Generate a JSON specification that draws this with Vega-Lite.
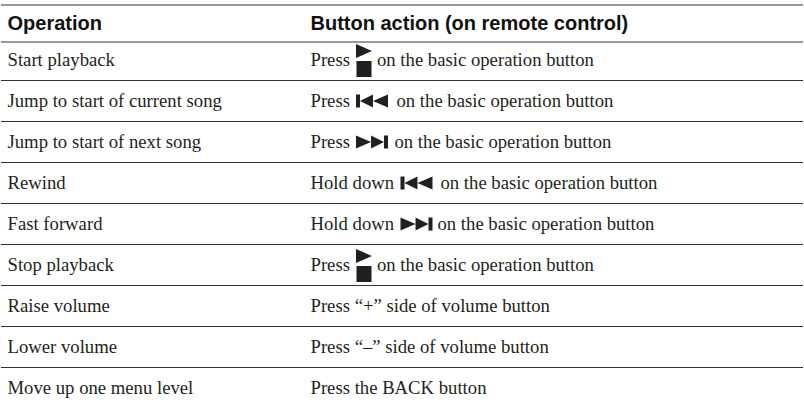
{"$schema":"https://vega.github.io/schema/vega-lite/v6.json","width":804,"height":405,"padding":0,"autosize":{"type":"fit","contains":"padding"},"background":"white","view":{"stroke":null},
"datasets":{
"lines":[{"b":-0.5},{"b":0.5},{"b":1.5},{"b":2.5},{"b":3.5},{"b":4.5},{"b":5.5},{"b":6.5},{"b":7.5},{"b":8.5}],
"head":[{"row":0,"slot":0,"t":"Operation"},{"row":0,"slot":1,"t":"Button action (on remote control)"}],
"body":[
{"row":1,"slot":0,"t":"Start playback"},{"row":1,"slot":1,"t":"Press"},{"row":1,"slot":4,"t":"on the basic operation button"},
{"row":2,"slot":0,"t":"Jump to start of current song"},{"row":2,"slot":1,"t":"Press"},{"row":2,"slot":6,"t":"on the basic operation button"},
{"row":3,"slot":0,"t":"Jump to start of next song"},{"row":3,"slot":1,"t":"Press"},{"row":3,"slot":5,"t":"on the basic operation button"},
{"row":4,"slot":0,"t":"Rewind"},{"row":4,"slot":1,"t":"Hold down"},{"row":4,"slot":9,"t":"on the basic operation button"},
{"row":5,"slot":0,"t":"Fast forward"},{"row":5,"slot":1,"t":"Hold down"},{"row":5,"slot":8,"t":"on the basic operation button"},
{"row":6,"slot":0,"t":"Stop playback"},{"row":6,"slot":1,"t":"Press"},{"row":6,"slot":4,"t":"on the basic operation button"},
{"row":7,"slot":0,"t":"Raise volume"},{"row":7,"slot":1,"t":"Press “+” side of volume button"},
{"row":8,"slot":0,"t":"Lower volume"},{"row":8,"slot":1,"t":"Press “–” side of volume button"},
{"row":9,"slot":0,"t":"Move up one menu level"},{"row":9,"slot":1,"t":"Press the BACK button"}],
"icons":[{"row":1,"slot":2,"icon":"playstop"},{"row":2,"slot":3,"icon":"rew"},{"row":3,"slot":3,"icon":"fwd"},{"row":4,"slot":7,"icon":"rew"},{"row":5,"slot":7,"icon":"fwd"},{"row":6,"slot":2,"icon":"playstop"}]},
"encoding":{},
"layer":[
{"data":{"name":"lines"},"mark":{"type":"rule","stroke":"#333333","strokeWidth":1.2},"encoding":{"y":{"field":"b","type":"quantitative","scale":{"domain":[-0.5,0,1,9],"range":[5,24,60,388],"nice":false,"zero":false},"axis":null}}},
{"data":{"name":"head"},"mark":{"type":"text","align":"left","baseline":"middle","font":"Liberation Sans","fontWeight":"bold","fontSize":20,"fill":"#111111"},"encoding":{"x":{"field":"slot","type":"quantitative","scale":{"domain":[0,1,2,3,4,5,6,7,8,9],"range":[6.5,309.5,363,371,376,393.5,395.5,415.5,436.5,439.5],"nice":false,"zero":false},"axis":null},"y":{"field":"row","type":"quantitative","axis":null},"text":{"field":"t"}}},
{"data":{"name":"body"},"mark":{"type":"text","align":"left","baseline":"middle","font":"Liberation Serif","fontSize":18.7,"fill":"#231f20"},"encoding":{"x":{"field":"slot","type":"quantitative","axis":null},"y":{"field":"row","type":"quantitative","axis":null},"text":{"field":"t"}}},
{"data":{"name":"icons"},"mark":{"type":"point","filled":true,"opacity":1,"size":1024,"fill":"#231f20","stroke":null},"encoding":{"x":{"field":"slot","type":"quantitative","axis":null},"y":{"field":"row","type":"quantitative","axis":null},"shape":{"field":"icon","type":"nominal","legend":null,"scale":{"domain":["playstop","rew","fwd"],"range":["M-0.5,-1L0.5,-0.56L-0.5,-0.12ZM-0.47,0.06H0.47V1.06H-0.47Z","M-1,-0.4H-0.75V0.4H-1ZM-0.75,0L0.06,-0.4V0.4ZM0.06,0L1,-0.4V0.4Z","M1,-0.4H0.75V0.4H1ZM0.75,0L-0.06,-0.4V0.4ZM-0.06,0L-1,-0.4V0.4Z"]}}}}
]}
